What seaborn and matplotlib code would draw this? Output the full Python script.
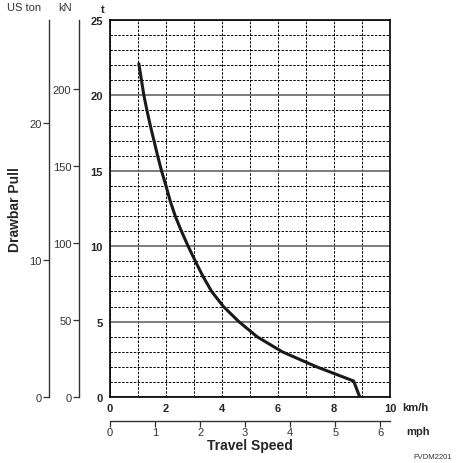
import matplotlib
matplotlib.use("Agg")
import matplotlib.pyplot as plt
import seaborn as sns
import pandas as pd
import numpy as np

# Data
speed_kmh = [1.03, 1.21, 1.32, 1.44, 1.57, 1.70, 1.84, 2.00, 2.15, 2.33, 2.55, 2.79,
             3.05, 3.32, 3.63, 4.05, 4.60, 5.25, 6.15, 7.38, 8.7, 8.92]
pull_t = [22.1, 20, 19, 18, 17, 16, 15, 14, 13, 12, 11, 10,
          9, 8, 7, 6, 5, 4, 3, 2, 1.06, 0]
t_ticks = [0, 5, 10, 15, 20, 25]
kmh_ticks = [0, 2, 4, 6, 8, 10]
mph_ticks = [0, 1, 2, 3, 4, 5, 6]
kn_ticks = [0, 50, 100, 150, 200]
uston_ticks = [0, 10, 20]

df = pd.DataFrame({"speed": speed_kmh, "pull": pull_t})

sns.set_style("white")
plt.rcParams["font.family"] = ["Liberation Sans", "DejaVu Sans"]

W, H = 459, 464
fig = plt.figure(figsize=(W / 100, H / 100), dpi=100)

def rect(x0, y_top, x1, y_bot):
    return [x0 / W, 1 - y_bot / H, (x1 - x0) / W, (y_bot - y_top) / H]

TOP, BOT = 21, 398
ax = fig.add_axes(rect(110, TOP, 390, BOT))
sns.lineplot(data=df, x="speed", y="pull", sort=False, color="#1a1a1a",
             linewidth=2.2, ax=ax, zorder=5)
ax.lines[-1].set_solid_joinstyle("round")
ax.set_xlim(0, 10)
ax.set_ylim(0, 25)
ax.set_xticks(kmh_ticks)
ax.set_xticks(np.arange(0, 11, 1), minor=True)
ax.set_yticks(t_ticks)
ax.set_yticks(np.arange(0, 26, 1), minor=True)
ax.set_xticklabels([str(v) for v in kmh_ticks], fontweight="bold", fontsize=8)
ax.set_yticklabels([str(v) for v in t_ticks], fontweight="bold", fontsize=8)
ax.tick_params(axis="both", which="both", length=0)
ax.tick_params(axis="x", pad=4)
ax.tick_params(axis="y", pad=5)
ax.set_xlabel("")
ax.set_ylabel("")
ax.grid(False)
ax.grid(which="both", axis="x", color="black", linestyle=(0, (2.5, 1.5)), linewidth=0.7)
ax.grid(which="minor", axis="y", color="black", linestyle=(0, (2.5, 1.5)), linewidth=0.7)
ax.grid(which="major", axis="y", color="#666666", linestyle="-", linewidth=1.2)
for s in ax.spines.values():
    s.set_color("black")
    s.set_linewidth(1.2)

# kN axis
axk = fig.add_axes(rect(79, TOP, 80, BOT))
axk.set_ylim(0, 25 * 9.80665)
axk.set_yticks(kn_ticks)
axk.set_xticks([])
for k in ["top", "right", "bottom"]:
    axk.spines[k].set_visible(False)
axk.spines["left"].set_color("#333333")
axk.spines["left"].set_linewidth(1.0)
axk.tick_params(axis="y", length=4, width=0.9, color="#333333", pad=1.5,
                labelsize=8, labelcolor="#333333", left=True)
axk.patch.set_alpha(0)

# US ton axis
axu = fig.add_axes(rect(49, TOP, 50, BOT))
axu.set_ylim(0, 25 / 0.90718)
axu.set_yticks(uston_ticks)
axu.set_xticks([])
for k in ["top", "right", "bottom"]:
    axu.spines[k].set_visible(False)
axu.spines["left"].set_color("#333333")
axu.spines["left"].set_linewidth(1.0)
axu.tick_params(axis="y", length=4, width=0.9, color="#333333", pad=1.5,
                labelsize=8, labelcolor="#333333", left=True)
axu.patch.set_alpha(0)

# mph axis
axm = fig.add_axes(rect(110, 421, 390, 422))
axm.set_xlim(0, 10 / 1.609344)
axm.set_xticks(mph_ticks)
axm.set_yticks([])
for k in ["top", "right", "left"]:
    axm.spines[k].set_visible(False)
axm.spines["bottom"].set_color("#333333")
axm.spines["bottom"].set_linewidth(1.0)
axm.tick_params(axis="x", length=4, width=0.9, color="#333333", pad=0,
                labelsize=8, labelcolor="#333333", bottom=True)
axm.patch.set_alpha(0)

def ftext(x, y, s, **kw):
    fig.text(x / W, 1 - y / H, s, **kw)

ftext(24, 8, "US ton", ha="center", va="center", fontsize=8, color="#333333")
ftext(65, 8, "kN", ha="center", va="center", fontsize=8, color="#333333")
ftext(103, 10, "t", ha="center", va="center", fontsize=8, fontweight="bold")
ftext(415, 408, "km/h", ha="center", va="center", fontsize=8, fontweight="bold")
ftext(418, 432, "mph", ha="center", va="center", fontsize=8, fontweight="bold")
ftext(250, 446, "Travel Speed", ha="center", va="center", fontsize=10, fontweight="bold")
ftext(15, 210, "Drawbar Pull", ha="center", va="center", fontsize=10,
      fontweight="bold", rotation=90)
ftext(452, 458, "FVDM2201", ha="right", va="center", fontsize=5.5, color="#333333")

fig.savefig("out.png", dpi=100)
